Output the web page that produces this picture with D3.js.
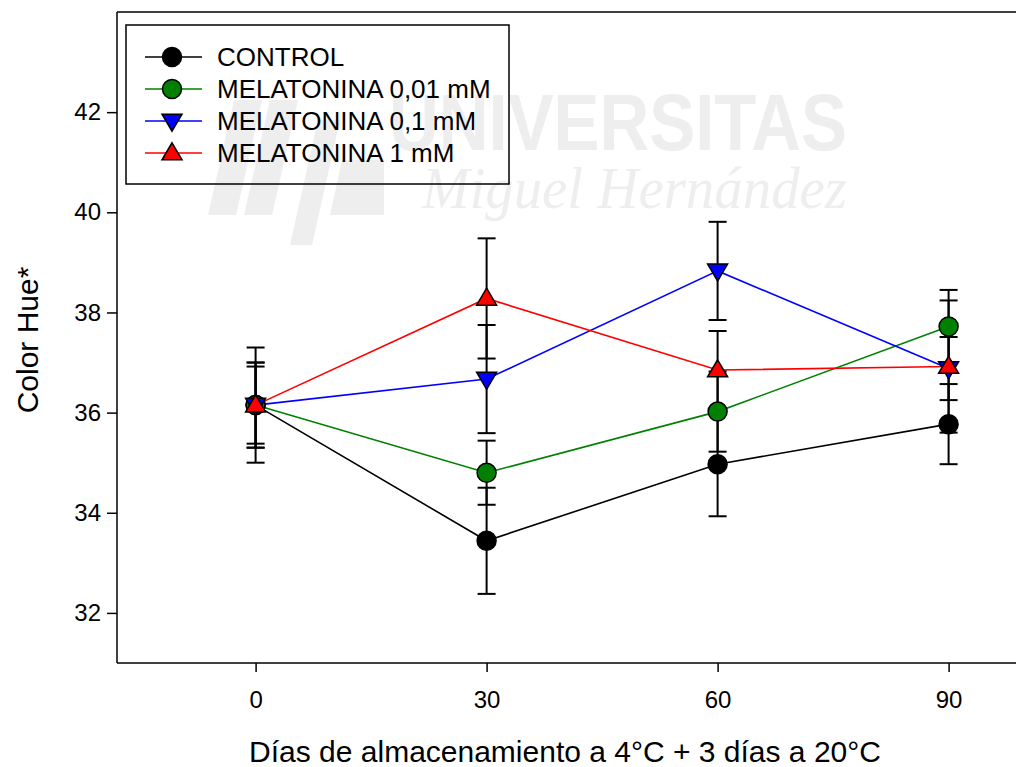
<!DOCTYPE html>
<html>
<head>
<meta charset="utf-8">
<script src="https://cdn.jsdelivr.net/npm/d3@7"></script>
<style>
  html, body { margin: 0; padding: 0; background: #fff; overflow: hidden; }
  svg { display: block; font-family: Arial, "Liberation Sans", sans-serif; }
</style>
</head>
<body>
<svg id="chart" width="1016" height="767"></svg>
<script>
// ---- data ----
const days = [0, 30, 60, 90];
const seriesNames = ["CONTROL", "MELATONINA 0,01 mM", "MELATONINA 0,1 mM", "MELATONINA 1 mM"];
const seriesColors = ["#000000", "#008000", "#0000ff", "#ff0000"];
const seriesMarkers = ["circle", "circle", "triangleDown", "triangleUp"];
const controlValues = [36.15, 33.44, 34.97, 35.77];
const controlErrors = [1.15, 1.06, 1.04, 0.80];
const mel001Values = [36.15, 34.80, 36.02, 37.72];
const mel001Errors = [0.85, 0.64, 0.80, 0.73];
const mel01Values = [36.15, 36.67, 38.83, 36.88];
const mel01Errors = [0.85, 1.08, 0.98, 0.63];
const mel1Values = [36.15, 38.28, 36.85, 36.92];
const mel1Errors = [0.77, 1.20, 0.78, 1.32];
const yTicks = [32, 34, 36, 38, 40, 42];
const xTicks = [0, 30, 60, 90];
const xTitle = "Días de almacenamiento a 4°C + 3 días a 20°C";
const yTitle = "Color Hue*";

const allValues = [controlValues, mel001Values, mel01Values, mel1Values];
const allErrors = [controlErrors, mel001Errors, mel01Errors, mel1Errors];

// ---- layout ----
const svg = d3.select("#chart");
const padLeft = 117, padTop = 12, padBottom = 663;
const x = d3.scaleLinear().domain([-18, 108]).range([padLeft, padLeft + 126 * 7.7]);
const y = d3.scaleLinear().domain([31, 44]).range([padBottom, padTop]);

// watermark
const wm = svg.append("g").attr("fill", "#eeeeee");
wm.append("text").attr("x", 389).attr("y", 150)
  .attr("font-size", 80).attr("font-weight", "bold")
  .attr("font-family", "Arial, 'Liberation Sans', sans-serif")
  .attr("textLength", 458).attr("lengthAdjust", "spacingAndGlyphs").text("UNIVERSITAS");
wm.append("text").attr("x", 422).attr("y", 208)
  .attr("font-size", 60).attr("font-style", "italic")
  .attr("font-family", "'Liberation Serif', 'DejaVu Serif', serif")
  .attr("textLength", 425).attr("lengthAdjust", "spacingAndGlyphs").text("Miguel Hernández");
const logoPolys = [
  [[208,215],[236,215],[262,100],[234,100]],
  [[244,215],[272,215],[298,100],[270,100]],
  [[290,245],[312,245],[340,120],[318,120]],
  [[330,215],[384,215],[384,160],[342,160]]
];
logoPolys.forEach(p => wm.append("polygon").attr("points", p.map(d => d.join(",")).join(" ")));

// frame
const plotRight = 1100;
svg.append("line").attr("x1", padLeft).attr("x2", plotRight).attr("y1", padTop).attr("y2", padTop)
  .attr("stroke", "#000").attr("stroke-width", 1.5);

// axes
const tickFont = 24;
const yAxis = d3.axisLeft(y).tickValues(yTicks).tickSize(10).tickPadding(6).tickFormat(d3.format("d"));
const gy = svg.append("g").attr("transform", `translate(${padLeft},0)`).call(yAxis);
gy.select(".domain").attr("d", `M0,${padTop}V${padBottom}`).attr("stroke-width", 1.5);
gy.selectAll(".tick line").attr("stroke-width", 1.5);
gy.selectAll(".tick text").attr("font-size", tickFont).attr("font-family", "Arial, 'Liberation Sans', sans-serif").attr("fill", "#000");

const xAxis = d3.axisBottom(x).tickValues(xTicks).tickSize(9).tickPadding(19).tickFormat(d3.format("d"));
const gx = svg.append("g").attr("transform", `translate(0,${padBottom})`).call(xAxis);
gx.select(".domain").attr("d", `M${padLeft},0H${plotRight}`).attr("stroke-width", 1.5);
gx.selectAll(".tick line").attr("stroke-width", 1.5);
gx.selectAll(".tick text").attr("font-size", tickFont).attr("font-family", "Arial, 'Liberation Sans', sans-serif").attr("fill", "#000");

// titles
svg.append("text").attr("x", 565).attr("y", 762).attr("text-anchor", "middle")
  .attr("font-size", 30).text(xTitle);
svg.append("text").attr("transform", "translate(38,340) rotate(-90)").attr("text-anchor", "middle")
  .attr("font-size", 30).text(yTitle);

// series lines
const line = d3.line().x((d, i) => x(days[i])).y(d => y(d));
allValues.forEach((vals, s) => {
  svg.append("path").attr("d", line(vals)).attr("fill", "none")
    .attr("stroke", seriesColors[s]).attr("stroke-width", 1.6);
});

// error bars
const capW = 9;
allValues.forEach((vals, s) => {
  const g = svg.append("g").attr("stroke", "#000").attr("stroke-width", 2);
  vals.forEach((v, i) => {
    const e = allErrors[s][i];
    const cx = x(days[i]);
    g.append("line").attr("x1", cx).attr("x2", cx).attr("y1", y(v + e)).attr("y2", y(v - e));
    g.append("line").attr("x1", cx - capW).attr("x2", cx + capW).attr("y1", y(v + e)).attr("y2", y(v + e));
    g.append("line").attr("x1", cx - capW).attr("x2", cx + capW).attr("y1", y(v - e)).attr("y2", y(v - e));
  });
});

// markers
function drawMarker(g, type, cx, cy, color) {
  if (type === "circle") {
    g.append("circle").attr("cx", cx).attr("cy", cy).attr("r", 9.5)
      .attr("fill", color).attr("stroke", "#000").attr("stroke-width", 1.5);
  } else {
    const h = 17, w = 20;
    let pts;
    if (type === "triangleUp") {
      pts = [[cx, cy - h * 0.6], [cx + w / 2, cy + h * 0.4], [cx - w / 2, cy + h * 0.4]];
    } else {
      pts = [[cx, cy + h * 0.6], [cx + w / 2, cy - h * 0.4], [cx - w / 2, cy - h * 0.4]];
    }
    g.append("polygon").attr("points", pts.map(p => p.join(",")).join(" "))
      .attr("fill", color).attr("stroke", "#000").attr("stroke-width", 1.5);
  }
}
allValues.forEach((vals, s) => {
  const g = svg.append("g");
  vals.forEach((v, i) => drawMarker(g, seriesMarkers[s], x(days[i]), y(v), seriesColors[s]));
});

// legend
const lg = svg.append("g");
lg.append("rect").attr("x", 126).attr("y", 25).attr("width", 383).attr("height", 159)
  .attr("fill", "none").attr("stroke", "#000").attr("stroke-width", 1.5);
const rowY = [57, 89, 121, 153];
seriesNames.forEach((name, s) => {
  const yy = rowY[s];
  lg.append("line").attr("x1", 145).attr("x2", 202).attr("y1", yy).attr("y2", yy)
    .attr("stroke", seriesColors[s]).attr("stroke-width", 1.6);
  drawMarker(lg, seriesMarkers[s], 172, yy, seriesColors[s]);
  lg.append("text").attr("x", 217).attr("y", yy + 9).attr("font-size", 26).text(name);
});
</script>
</body>
</html>
